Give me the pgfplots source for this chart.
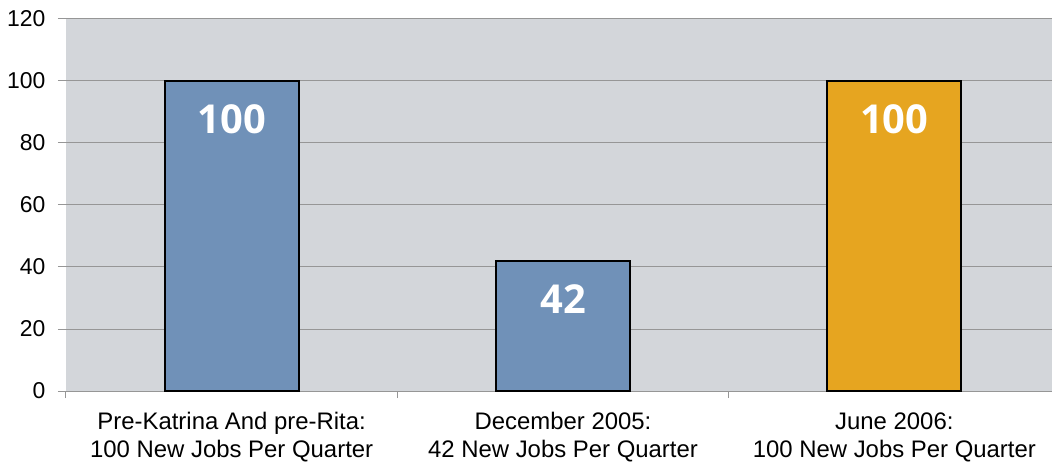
\documentclass[border=0pt]{standalone}
\usepackage{pgfplots}
\pgfplotsset{compat=1.18}
\usepackage{fontspec}
\setmainfont{Liberation Sans}
\newfontfamily\barfont{Open Sans}
\definecolor{bgray}{RGB}{211,214,218}
\definecolor{barblue}{RGB}{112,145,184}
\definecolor{barorange}{RGB}{230,165,32}
\definecolor{gridgray}{RGB}{150,150,150}
\begin{document}
\begin{tikzpicture}[x=1bp,y=1bp]
\begin{axis}[
  scale only axis,
  width=994bp, height=372bp,
  xmin=-0.5, xmax=2.5,
  ymin=0, ymax=120,
  ytick={0,20,40,60,80,100,120},
  xtick={0,1,2},
  xticklabels={{Pre-Katrina And pre-Rita:\\100 New Jobs Per Quarter},{December 2005:\\42 New Jobs Per Quarter},{June 2006:\\100 New Jobs Per Quarter}},
  xticklabel style={align=center, font=\fontsize{24}{28}\selectfont, yshift=-10bp},
  yticklabel style={font=\fontsize{23}{27}\selectfont, xshift=-9bp},
  /pgf/number format/assume math mode=true,
  axis line style={draw=none},
  axis background/.style={fill=bgray},
  ymajorgrids,
  grid style={gridgray, line width=1bp},
  ytick pos=left,
  xtick pos=bottom,
  tick align=outside,
  major tick length=8bp,
  y tick style={draw=gridgray, line width=1bp},
  x tick style={draw=none},
  extra x ticks={-0.5,0.5,1.5,2.5},
  extra x tick labels={},
  extra x tick style={grid=none, x tick style={draw=gridgray, line width=1bp}, major tick length=7bp},
  ybar, bar width=134bp,
  nodes near coords,
  every node near coord/.append style={anchor=center, yshift=-38bp, font=\barfont\bfseries\fontsize{40}{44}\selectfont, text=white},
]
\addplot[bar shift=0bp, fill=barblue, draw=black, line width=2bp] coordinates {(0,100) (1,42)};
\addplot[bar shift=0bp, fill=barorange, draw=black, line width=2bp] coordinates {(2,100)};
\end{axis}
\pgfresetboundingbox
\path[use as bounding box] ([shift={(-66bp,-73bp)}]current axis.south west) rectangle ([shift={(986bp,391bp)}]current axis.south west);
\end{tikzpicture}
\end{document}
